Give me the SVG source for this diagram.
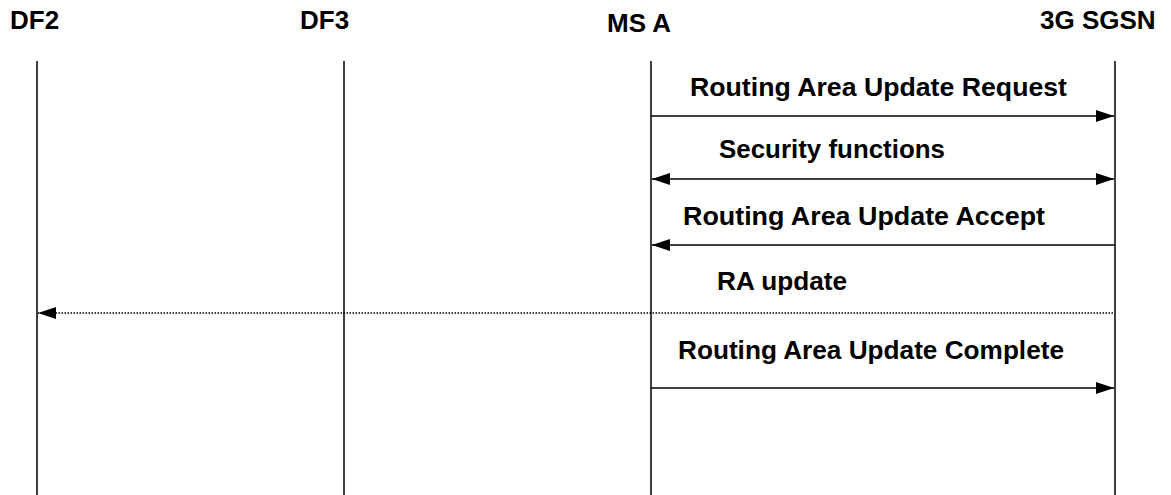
<svg xmlns="http://www.w3.org/2000/svg" width="1171" height="495" viewBox="0 0 1171 495">
<style>
text{font-family:"Liberation Sans",Arial,sans-serif;font-weight:bold;font-size:26px;fill:#000}
.life{stroke:#000;stroke-width:1.5}
.msg{stroke:#000;stroke-width:1.5;fill:none}
.dot{stroke:#000;stroke-width:1.5;stroke-dasharray:1.5 1.5;fill:none}
</style>
<defs>
<marker id="ah" viewBox="0 0 18 12" refX="18" refY="6" markerWidth="18" markerHeight="12" markerUnits="userSpaceOnUse" orient="auto-start-reverse"><path d="M0,0 L18,6 L0,12 Z" fill="#000"/></marker>
</defs>
<rect width="1171" height="495" fill="#fff"/>
<g id="df2"><text x="10" y="29">DF2</text><line class="life" x1="37" y1="61" x2="37" y2="495"/></g>
<g id="df3"><text x="300" y="29">DF3</text><line class="life" x1="344" y1="61" x2="344" y2="495"/></g>
<g id="msa"><text x="607" y="32">MS A</text><line class="life" x1="651" y1="61" x2="651" y2="495"/></g>
<g id="sgsn"><text x="1040" y="29">3G SGSN</text><line class="life" x1="1115" y1="61" x2="1115" y2="495"/></g>
<g id="connectors">
<line class="msg" x1="651" y1="116" x2="1114" y2="116" marker-end="url(#ah)"/>
<text x="690" y="96" textLength="377" lengthAdjust="spacingAndGlyphs">Routing Area Update Request</text>
<line class="msg" x1="652" y1="179" x2="1114" y2="179" marker-start="url(#ah)" marker-end="url(#ah)"/>
<text x="719" y="158" textLength="226" lengthAdjust="spacingAndGlyphs">Security functions</text>
<line class="msg" x1="1115" y1="245" x2="652" y2="245" marker-end="url(#ah)"/>
<text x="683" y="225" textLength="362" lengthAdjust="spacingAndGlyphs">Routing Area Update Accept</text>
<line class="dot" x1="1113" y1="313" x2="38" y2="313" marker-end="url(#ah)"/>
<text x="717" y="290" textLength="130" lengthAdjust="spacingAndGlyphs">RA update</text>
<line class="msg" x1="651" y1="388" x2="1114" y2="388" marker-end="url(#ah)"/>
<text x="678" y="359" textLength="386" lengthAdjust="spacingAndGlyphs">Routing Area Update Complete</text>
</g>
</svg>
